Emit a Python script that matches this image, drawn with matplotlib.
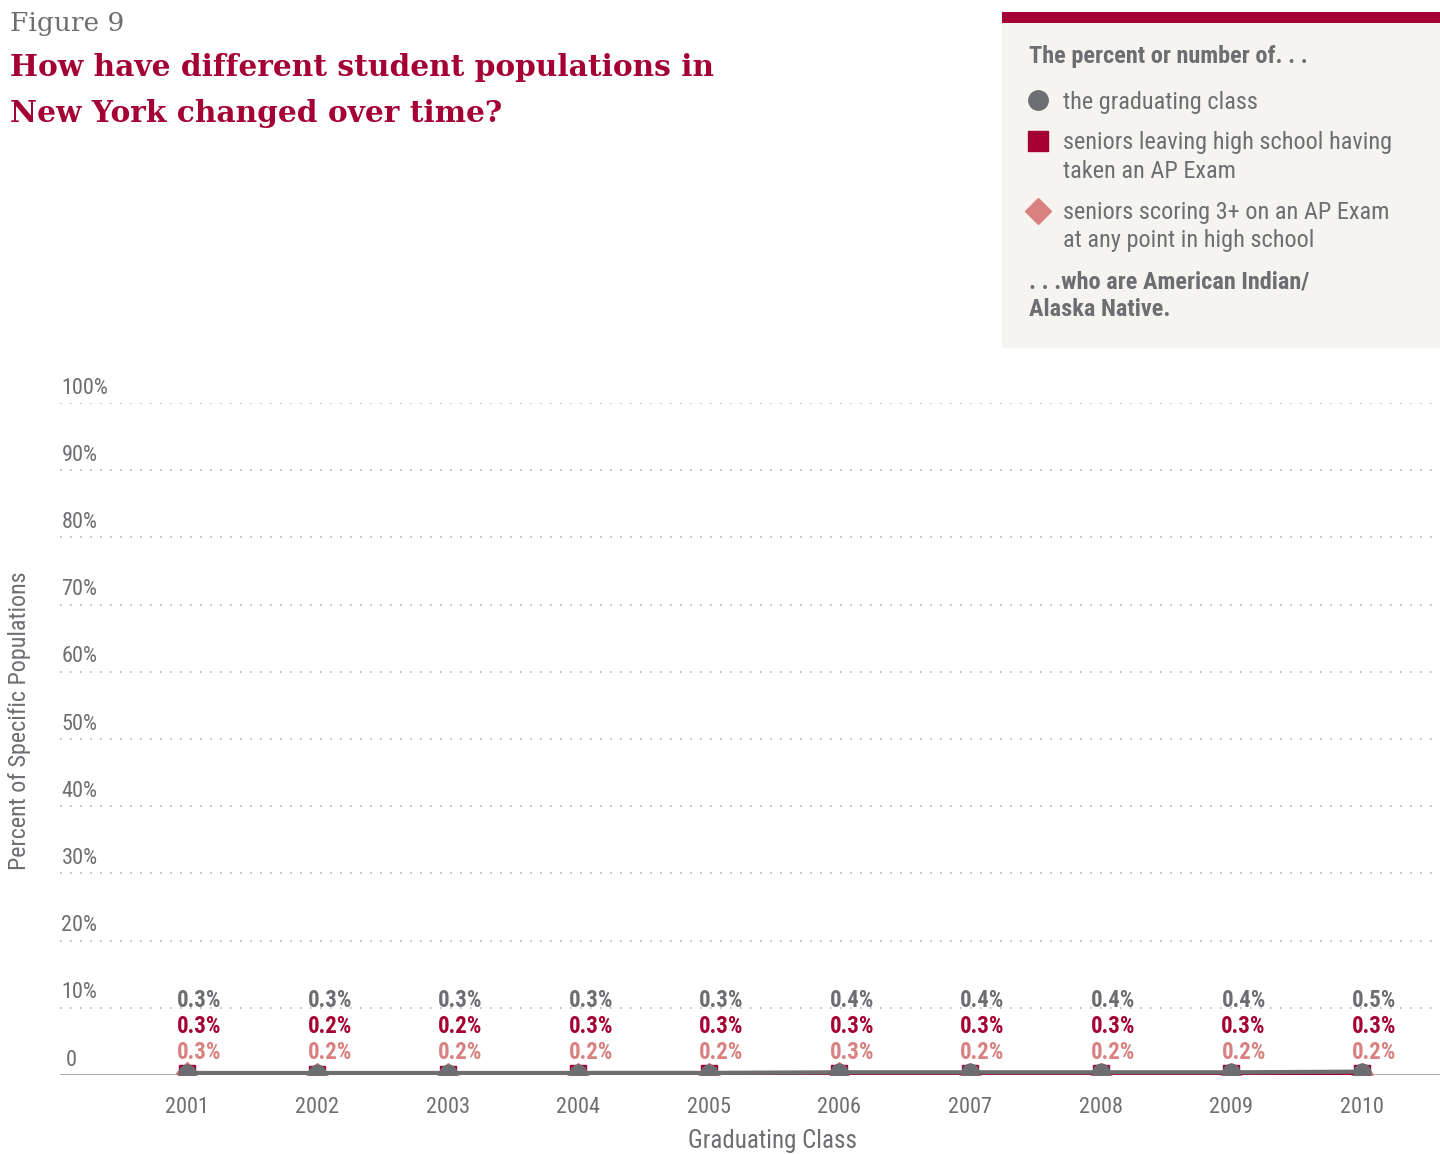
import numpy as np
import matplotlib.pyplot as plt
from matplotlib import font_manager as fm
from matplotlib.patches import Rectangle

# data
years = [2001, 2002, 2003, 2004, 2005, 2006, 2007, 2008, 2009, 2010]
grad_class = [0.3, 0.3, 0.3, 0.3, 0.3, 0.4, 0.4, 0.4, 0.4, 0.5]
ap_takers = [0.3, 0.2, 0.2, 0.3, 0.3, 0.3, 0.3, 0.3, 0.3, 0.3]
ap_scorers = [0.3, 0.2, 0.2, 0.2, 0.2, 0.3, 0.2, 0.2, 0.2, 0.2]
yticks = [0, 10, 20, 30, 40, 50, 60, 70, 80, 90, 100]

GRAY = '#6d6e71'
CRIMSON = '#a50034'
PINK = '#d98080'

# look for a condensed sans, fall back to DejaVu
fonts = fm.fontManager.ttflist
names = {f.name for f in fonts}
narrow = None
for cand in ['Roboto Condensed', 'Liberation Sans Narrow', 'Open Sans Condensed',
             'DejaVu Sans Condensed', 'Noto Sans Condensed']:
    if cand in names:
        narrow = cand
        break
stretch = 'normal'
if narrow is None:
    for f in fonts:
        if f.name == 'DejaVu Sans' and 'ondensed' in str(f.stretch):
            stretch = 'condensed'
            break
    if stretch == 'normal':
        for f in fonts:
            if f.name in ('Roboto', 'Noto Sans', 'Open Sans') and 'ondensed' in str(f.stretch):
                narrow = f.name
                stretch = 'condensed'
                break
SANS = [narrow, 'DejaVu Sans'] if narrow else ['DejaVu Sans']
condensed = narrow is not None or stretch == 'condensed'
k = 1.0 if condensed else 0.86  # shrink text when no narrow face exists
SERIF = ['DejaVu Serif']

plt.rcParams['font.family'] = SANS
plt.rcParams['font.stretch'] = stretch

fig = plt.figure(figsize=(14.4, 11.54), dpi=100)
ax = fig.add_axes([60/1440, 79/1154, 1380/1440, 672/1154])

ax.plot(years, ap_scorers, color=PINK, lw=2.5, marker='D', ms=11, zorder=3)
ax.plot(years, ap_takers, color=CRIMSON, lw=3, marker='s', ms=12, zorder=4)
ax.plot(years, grad_class, color=GRAY, lw=3, marker='o', ms=12, zorder=5)

ax.set_xlim(2000.03, 2010.6)
ax.set_ylim(0, 100)
for s in ax.spines.values():
    s.set_visible(False)
ax.axhline(0, color='#a0a0a0', lw=1.2, zorder=1)
for t in yticks[1:]:
    ax.axhline(t, color='#b5b5b5', lw=1.2, ls=(0, (1, 5)), zorder=1)

ax.set_yticks([])
ax.set_xticks(years)
ax.set_xticklabels([str(y) for y in years], fontsize=16*k, color=GRAY)
ax.tick_params(axis='x', length=0, pad=15.5)

for t in yticks:
    lbl = '0' if t == 0 else f'{t}%'
    ax.annotate(lbl, (0, t), xycoords=('axes fraction', 'data'),
                xytext=(1 if t else 4, 3.2), textcoords='offset points',
                ha='left', va='bottom', fontsize=16*k, color=GRAY)

for x, g, a, s in zip(years, grad_class, ap_takers, ap_scorers):
    ax.annotate(f'{g}%', (x, 0), xytext=(9, 53.5), textcoords='offset points',
                ha='center', va='center', fontsize=16.5*k, color=GRAY, fontweight='bold')
    ax.annotate(f'{a}%', (x, 0), xytext=(9, 35), textcoords='offset points',
                ha='center', va='center', fontsize=16.5*k, color=CRIMSON, fontweight='bold')
    ax.annotate(f'{s}%', (x, 0), xytext=(9, 16.5), textcoords='offset points',
                ha='center', va='center', fontsize=16.5*k, color=PINK, fontweight='bold')

fig.text(773/1440, 1 - 1141/1154, 'Graduating Class', fontsize=18*k, color=GRAY,
         ha='center', va='center')
fig.text(20/1440, 1 - 721/1154, 'Percent of Specific Populations', rotation=90,
         ha='center', va='center', fontsize=17.3*k, color=GRAY)

# title block
fig.text(10/1440, 1 - 24/1154, 'Figure 9', fontsize=19, color=GRAY,
         family=SERIF, va='center', ha='left')
fig.text(10/1440, 1 - 68/1154, 'How have different student populations in',
         fontsize=21.3, color=CRIMSON, family=SERIF, fontweight='bold', va='center', ha='left')
fig.text(10/1440, 1 - 114/1154, 'New York changed over time?',
         fontsize=21.3, color=CRIMSON, family=SERIF, fontweight='bold', va='center', ha='left')

# legend box
fig.patches.append(Rectangle((1002/1440, 1 - 348/1154), 438/1440, 325/1154,
                             transform=fig.transFigure, facecolor='#f5f4f0', edgecolor='none'))
fig.patches.append(Rectangle((1002/1440, 1 - 23/1154), 438/1440, 11/1154,
                             transform=fig.transFigure, facecolor=CRIMSON, edgecolor='none'))

lx = 1029/1440
tx = 1063/1440
fs = 17.5*k
fig.text(lx, 1 - 57/1154, 'The percent or number of. . .', fontsize=fs, color=GRAY,
         fontweight='bold', va='center', ha='left')
fig.lines.append(plt.Line2D([1038/1440], [1 - 100/1154], marker='o', ms=14, color=GRAY,
                            transform=fig.transFigure))
fig.text(tx, 1 - 102/1154, 'the graduating class', fontsize=fs, color=GRAY, va='center', ha='left')
fig.lines.append(plt.Line2D([1038/1440], [1 - 141/1154], marker='s', ms=14, color=CRIMSON,
                            transform=fig.transFigure))
fig.text(tx, 1 - 143/1154, 'seniors leaving high school having', fontsize=fs, color=GRAY,
         va='center', ha='left')
fig.text(tx, 1 - 172/1154, 'taken an AP Exam', fontsize=fs, color=GRAY, va='center', ha='left')
fig.lines.append(plt.Line2D([1038/1440], [1 - 211/1154], marker='D', ms=13, color=PINK,
                            transform=fig.transFigure))
fig.text(tx, 1 - 212/1154, 'seniors scoring 3+ on an AP Exam', fontsize=fs, color=GRAY,
         va='center', ha='left')
fig.text(tx, 1 - 241/1154, 'at any point in high school', fontsize=fs, color=GRAY,
         va='center', ha='left')
fig.text(lx, 1 - 282/1154, '. . .who are American Indian/', fontsize=fs, color=GRAY,
         fontweight='bold', va='center', ha='left')
fig.text(lx, 1 - 310/1154, 'Alaska Native.', fontsize=fs, color=GRAY,
         fontweight='bold', va='center', ha='left')

fig.savefig('out.png', dpi=100, facecolor='white')
